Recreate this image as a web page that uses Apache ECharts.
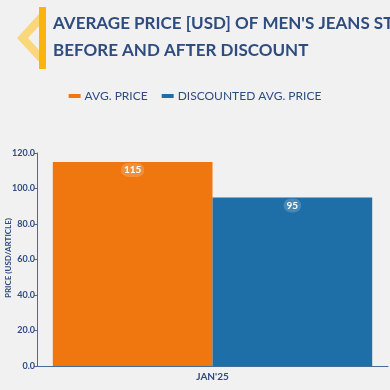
<!DOCTYPE html>
<html><head><meta charset="utf-8">
<script src="https://cdn.jsdelivr.net/npm/echarts@6/dist/echarts.min.js"></script>
<style>html,body{margin:0;padding:0;background:#f1f1f1;}#c{width:390px;height:390px;}</style>
</head><body><div id="c"></div>
<script>
const categories = ["JAN'25"];
const avgPrice = [115];
const discountedAvgPrice = [95];
const seriesNames = ['AVG. PRICE', 'DISCOUNTED AVG. PRICE'];
const titleText = "AVERAGE PRICE [USD] OF MEN'S JEANS STYLES\nBEFORE AND AFTER DISCOUNT";
const yAxisName = 'PRICE (USD/ARTICLE)';

const chart = echarts.init(document.getElementById('c'), null, {renderer: 'canvas'});
const textColor = '#2f4c7f';
const labelStyle = {
  show: true, position: 'insideTop', distance: 1,
  color: '#fff', fontWeight: 'bold', fontSize: 10, fontFamily: 'Lato',
  backgroundColor: 'rgba(255,255,255,0.18)', borderRadius: 8, padding: [2, 3]
};
chart.setOption({
  backgroundColor: '#f1f1f1',
  animation: false,
  title: {
    text: titleText, left: 48, top: 5,
    textStyle: {color: textColor, fontSize: 17, fontWeight: 'bold', fontFamily: 'Lato', lineHeight: 27}
  },
  graphic: [
    {type: 'polygon', shape: {points: [[39, 14], [39, 26], [28, 38], [39, 50], [39, 62], [17, 38]]}, style: {fill: '#f9d77a'}},
    {type: 'rect', shape: {x: 39, y: 7, width: 7, height: 62}, style: {fill: '#fbb40c'}},
    {type: 'text', x: 8, y: 258, rotation: Math.PI / 2,
      style: {text: yAxisName, fill: textColor, font: 'bold 8px Lato', align: 'center', verticalAlign: 'middle'}}
  ],
  legend: {
    top: 85, left: 'center', itemWidth: 12, itemHeight: 4, itemGap: 14,
    icon: 'rect',
    textStyle: {color: textColor, fontSize: 12, fontFamily: 'Lato', padding: [0, 0, 0, -1]},
    data: seriesNames
  },
  grid: {left: 37, right: 2, top: 153, bottom: 24, containLabel: false, outerBoundsMode: 'none'},
  xAxis: {
    type: 'category', data: categories,
    axisLine: {lineStyle: {color: '#4a6a9a', width: 1}},
    axisTick: {show: false},
    axisLabel: {color: textColor, fontWeight: 'bold', fontSize: 10, fontFamily: 'Lato', margin: 6}
  },
  yAxis: {
    type: 'value', min: 0, max: 120, interval: 20,
    axisLine: {show: true, lineStyle: {color: '#4a6a9a', width: 1}},
    axisTick: {show: true, length: 3, lineStyle: {color: '#4a6a9a'}},
    splitLine: {show: false},
    axisLabel: {color: textColor, fontWeight: 'bold', fontSize: 9, fontFamily: 'Lato', margin: 2,
      formatter: v => v.toFixed(1)}
  },
  series: [
    {name: seriesNames[0], type: 'bar', data: avgPrice, barGap: '0%', barCategoryGap: '9%',
      itemStyle: {color: '#f0770f'}, label: labelStyle},
    {name: seriesNames[1], type: 'bar', data: discountedAvgPrice,
      itemStyle: {color: '#1e6ea8'}, label: labelStyle}
  ]
});
</script></body></html>
